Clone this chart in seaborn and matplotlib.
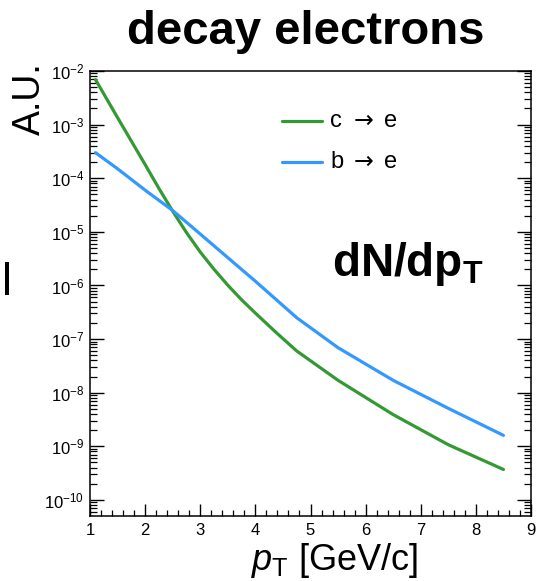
import numpy as np
import pandas as pd
import seaborn as sns
import matplotlib
matplotlib.use("Agg")
import matplotlib.pyplot as plt
from matplotlib.ticker import LogLocator, FixedLocator, NullFormatter, FuncFormatter
from matplotlib.patches import Rectangle

# pT grid (GeV/c) and spectra of electrons from charm and beauty decays (arbitrary units)
pt_c = [1.1, 1.5, 2.0, 2.25, 2.5, 2.75, 3.0, 3.25, 3.5, 3.75, 4.0, 4.375,
        4.75, 5.5, 6.5, 7.5, 8.5]
c_to_e = [6.9e-3, 1.35e-3, 1.8e-4, 6.46e-5, 2.43e-5, 9.7e-6, 4.2e-6, 2.0e-6,
          1.01e-6, 5.4e-7, 3.05e-7, 1.33e-7, 6.0e-8, 1.7e-8, 3.9e-9, 1.07e-9, 3.7e-10]
pt_b = [1.1, 1.5, 2.0, 2.5, 3.0, 3.5, 4.0, 4.75, 5.5, 6.5, 7.5, 8.5]
b_to_e = [3.0e-4, 1.5e-4, 6.0e-5, 2.5e-5, 9.1e-6, 3.3e-6, 1.2e-6,
          2.5e-7, 6.9e-8, 1.7e-8, 5.1e-9, 1.6e-9]
series_quark = ["c", "b"]
series_colors = ["#339933", "#3399FF"]
x_ticks = [1, 2, 3, 4, 5, 6, 7, 8, 9]
y_decades = [-10, -9, -8, -7, -6, -5, -4, -3, -2]

df = pd.concat([
    pd.DataFrame({"pt": pt_c, "yield": c_to_e, "source": series_quark[0]}),
    pd.DataFrame({"pt": pt_b, "yield": b_to_e, "source": series_quark[1]}),
])

sns.set_theme(style="ticks")
plt.rcParams["font.family"] = ["Liberation Sans", "DejaVu Sans"]
plt.rcParams["text.color"] = "black"
plt.rcParams["mathtext.fontset"] = "custom"
plt.rcParams["mathtext.rm"] = "Liberation Sans"
plt.rcParams["mathtext.it"] = "Liberation Sans:italic"
plt.rcParams["mathtext.bf"] = "Liberation Sans:bold"

fig = plt.figure(figsize=(5.39, 5.81), dpi=100)
ax = fig.add_axes([90 / 539, 1 - 516 / 581, (531 - 90) / 539, (516 - 71) / 581])

sns.lineplot(data=df, x="pt", y="yield", hue="source", palette=series_colors,
             hue_order=series_quark, linewidth=2.3, ax=ax, legend=False,
             estimator=None, sort=False)

ax.set_yscale("log")
ax.set_xlim(1, 9)
ax.set_ylim(10 ** -10.3, 1e-2)
ax.set_xlabel("")
ax.set_ylabel("")

# axis frame and ticks in the style of a ROOT canvas
for s in ax.spines.values():
    s.set_linewidth(1.1)
    s.set_color("black")
ax.xaxis.set_major_locator(FixedLocator(x_ticks))
ax.xaxis.set_minor_locator(FixedLocator(np.arange(1, 9.01, 0.2)))
ax.yaxis.set_major_locator(FixedLocator([10.0 ** d for d in y_decades]))
ax.yaxis.set_minor_locator(LogLocator(base=10, subs=np.arange(2, 10), numticks=20))
ax.yaxis.set_minor_formatter(NullFormatter())
ax.yaxis.set_major_formatter(FuncFormatter(lambda v, p: r"$10^{%d}$" % int(round(np.log10(v)))))
ax.tick_params(axis="y", which="both", direction="in", left=True, right=True,
               labelsize=12, pad=4, colors="black")
ax.tick_params(axis="y", which="major", length=10, width=1.0)
ax.tick_params(axis="y", which="minor", length=5, width=0.9)
ax.tick_params(axis="x", which="both", direction="in", bottom=True, top=False,
               labelsize=12, pad=5, colors="black")
ax.tick_params(axis="x", which="major", length=9, width=1.0)
ax.tick_params(axis="x", which="minor", length=4.3, width=0.9)

# legend: line sample, quark letter, arrow, electron
for i, (q, col) in enumerate(zip(series_quark, series_colors)):
    yy = 1 - (121 + 41 * i) / 581
    fig.add_artist(plt.Line2D([282 / 539, 322 / 539], [yy, yy], color=col, lw=2.3))
    fig.text(330 / 539, yy, q, fontsize=17, va="center", ha="left")
    fig.text(364 / 539, yy, "\u2192", fontsize=17, va="center", ha="center",
             family=["DejaVu Sans"])
    fig.text(384 / 539, yy, "e", fontsize=17, va="center", ha="left")

# titles and labels
fig.text(306 / 539, 1 - 44 / 581, "decay electrons", fontsize=34, fontweight="bold",
         ha="center", va="baseline")
fig.text(332 / 539, 1 - 276 / 581, r"$\mathbf{dN/dp_T}$", fontsize=33,
         ha="left", va="baseline")
fig.text(335 / 539, 1 - 570 / 581, r"$\mathit{p}_{\mathrm{T}}$ [GeV/c]", fontsize=26,
         ha="center", va="baseline")
fig.text(30 / 539, 1 - 99 / 581, "A.U.", fontsize=27, rotation=90,
         ha="center", va="center")

# edge of the neighbouring panel's frame
fig.add_artist(Rectangle((5 / 539, 1 - 295 / 581), 4 / 539, 33 / 581,
                         color="black", lw=0))

fig.savefig("out.png", dpi=100)
